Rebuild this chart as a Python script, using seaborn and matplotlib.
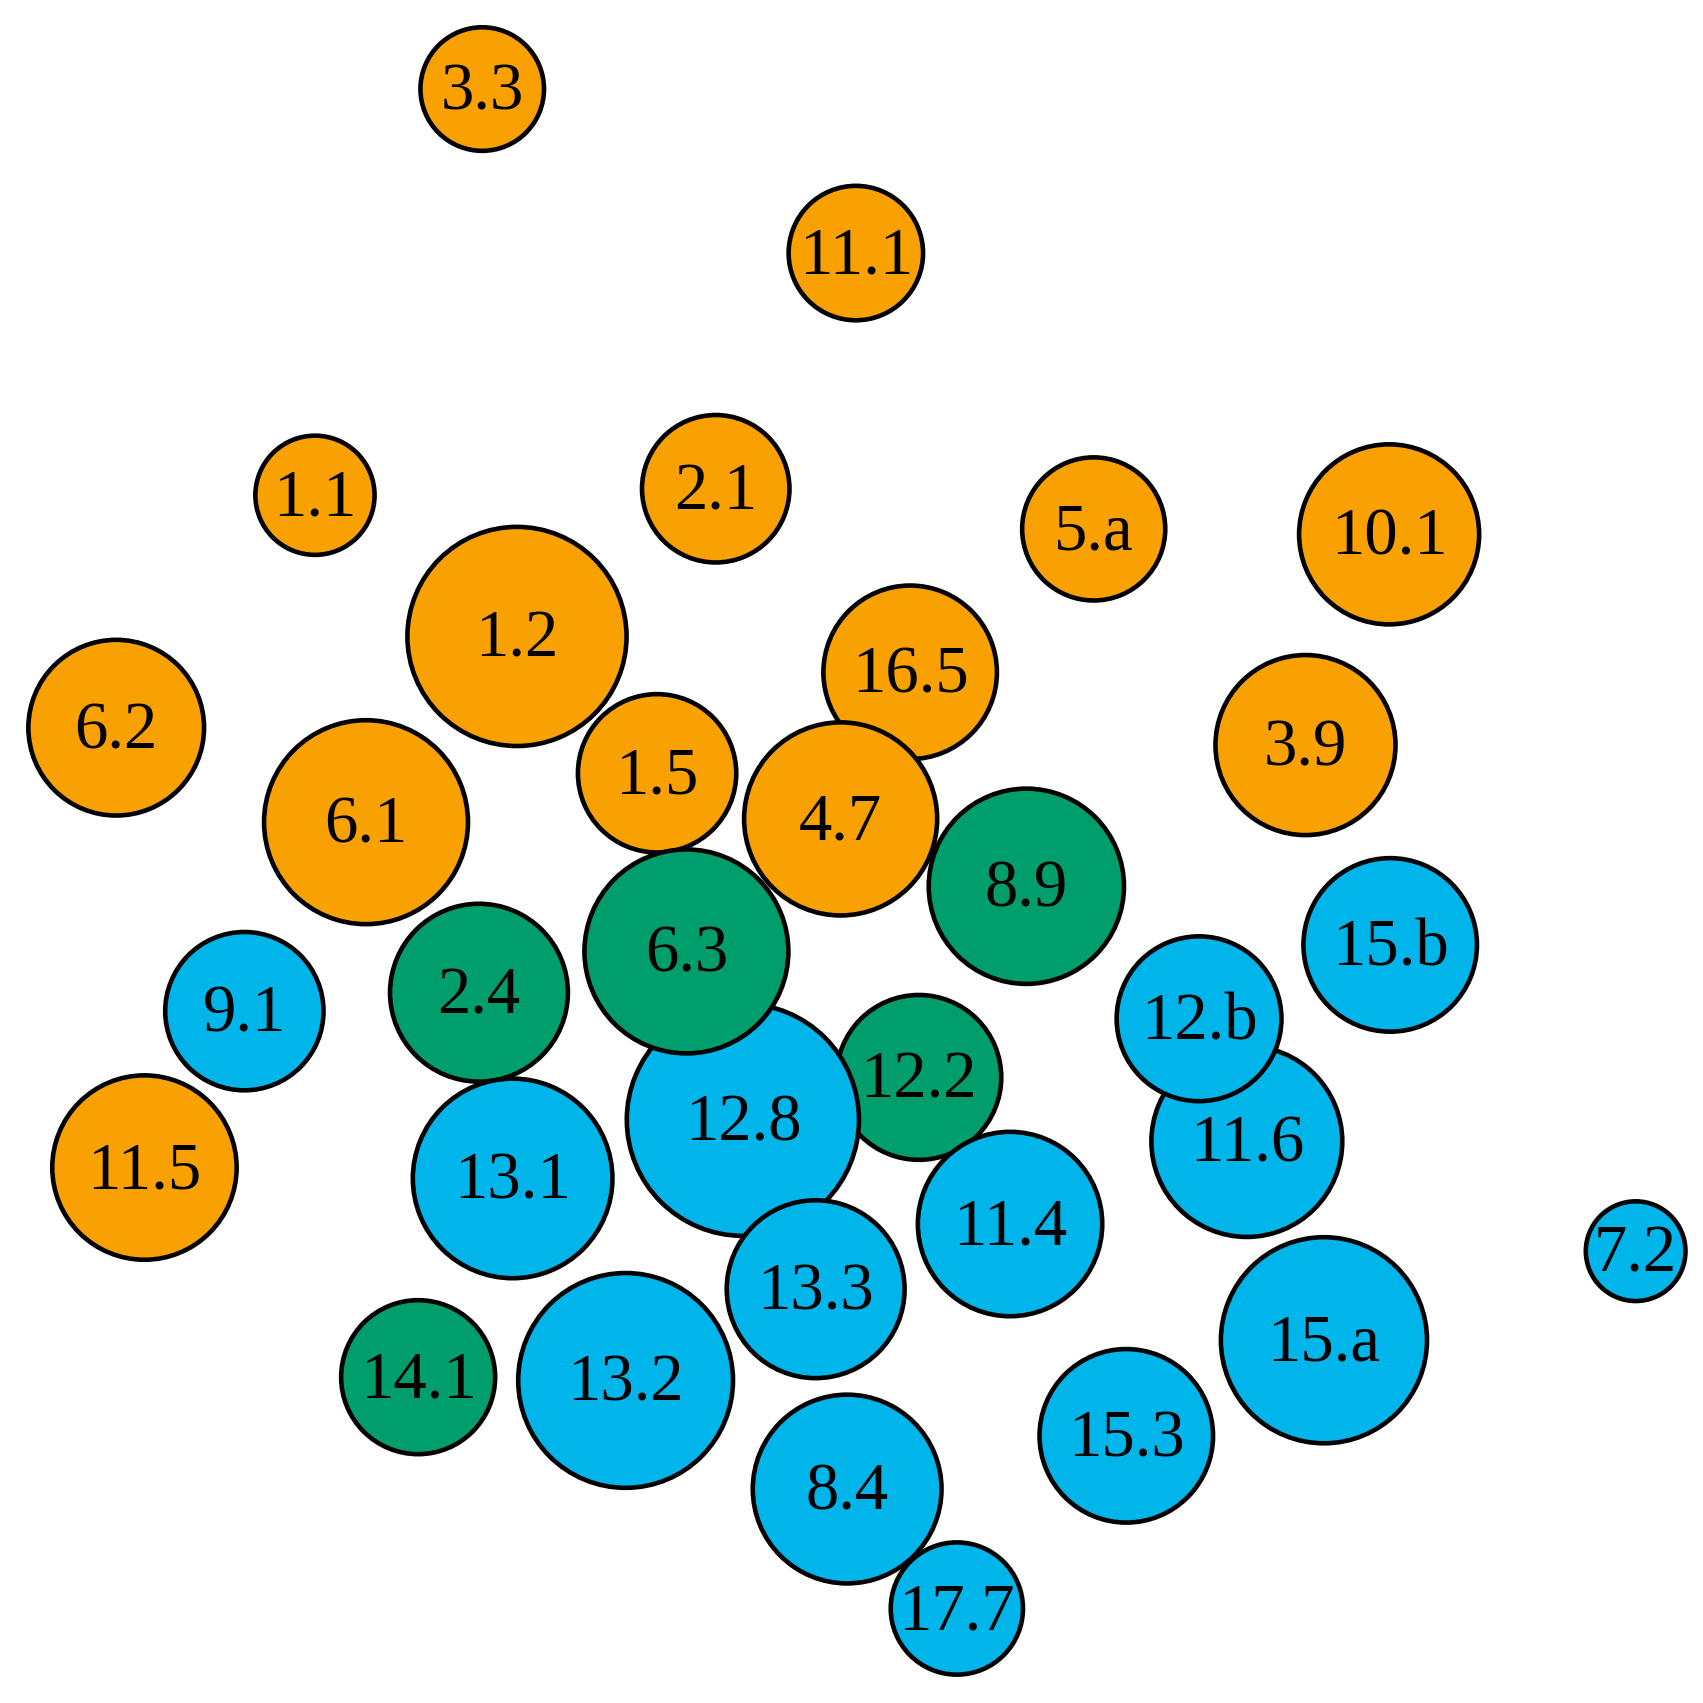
import matplotlib
matplotlib.use("Agg")
import matplotlib.pyplot as plt
import matplotlib.transforms as mtransforms
import seaborn as sns
import pandas as pd

# bubble data (centre x, centre y, radius, group)
labels = ["3.3", "11.1", "1.1", "2.1", "5.a", "10.1", "1.2", "16.5", "6.2", "3.9",
          "1.5", "6.1", "4.7", "11.5",
          "8.9", "2.4", "12.2", "14.1",
          "15.b", "11.6", "12.b", "9.1", "12.8", "6.3", "13.1", "11.4", "7.2",
          "13.3", "15.a", "13.2", "15.3", "8.4", "17.7"]
x = [444, 788, 290, 659, 1007, 1279, 476, 838, 107, 1202,
     605, 337, 774, 133,
     945, 441, 846, 385,
     1280, 1148, 1104, 225, 684, 632, 472, 930, 1506,
     751, 1219, 576, 1037, 780, 881]
y = [82, 233, 456, 450, 487, 492, 586, 619, 670, 686,
     712, 757, 754, 1075,
     816, 914, 992, 1268,
     870, 1051, 938, 931, 1031, 876, 1085, 1127, 1152,
     1187, 1234, 1271, 1322, 1371, 1481]
radius = [59, 64, 57, 70, 68, 85, 103, 82, 83, 85,
          75, 96, 91, 87,
          92, 84, 78, 73,
          82, 90, 78, 75, 109, 96, 94, 87, 48,
          84, 97, 101, 82, 89, 63]
group = ["A"] * 14 + ["B"] * 4 + ["C", "C", "C", "C", "C", "B", "C", "C", "C",
                                  "C", "C", "C", "C", "C", "C"]

palette = {"A": "#F9A100", "B": "#009E6D", "C": "#00B5EA"}

df = pd.DataFrame({"label": labels, "x": x, "y": y, "r": radius, "group": group})

W = 1568
fig = plt.figure(figsize=(17.03, 17.03), dpi=100)
ax = fig.add_axes([0, 0, 1, 1])
sns.set_style("white")

lw = 3.3
pt_per_unit = 17.03 * 72 / W
# marker area in points^2 so that the outer edge matches the radius
sizes = (2 * (df["r"] * pt_per_unit - lw / 2)) ** 2

sns.scatterplot(data=df, x="x", y="y", hue="group", palette=palette, s=sizes,
                edgecolor="black", linewidth=lw, legend=False, ax=ax, zorder=2)

# nudge labels slightly down so the digits sit in the middle of the circles
txt_trans = mtransforms.offset_copy(ax.transData, fig=fig, y=-4, units="dots")
for _, row in df.iterrows():
    ax.text(row["x"], row["y"], row["label"], ha="center", va="center",
            fontsize=48, family="Liberation Serif", color="black", zorder=3,
            transform=txt_trans)

ax.set_xlim(0, W)
ax.set_ylim(W, 0)
ax.set_aspect("equal")
ax.axis("off")

fig.savefig("out.png", dpi=100, facecolor="white")
